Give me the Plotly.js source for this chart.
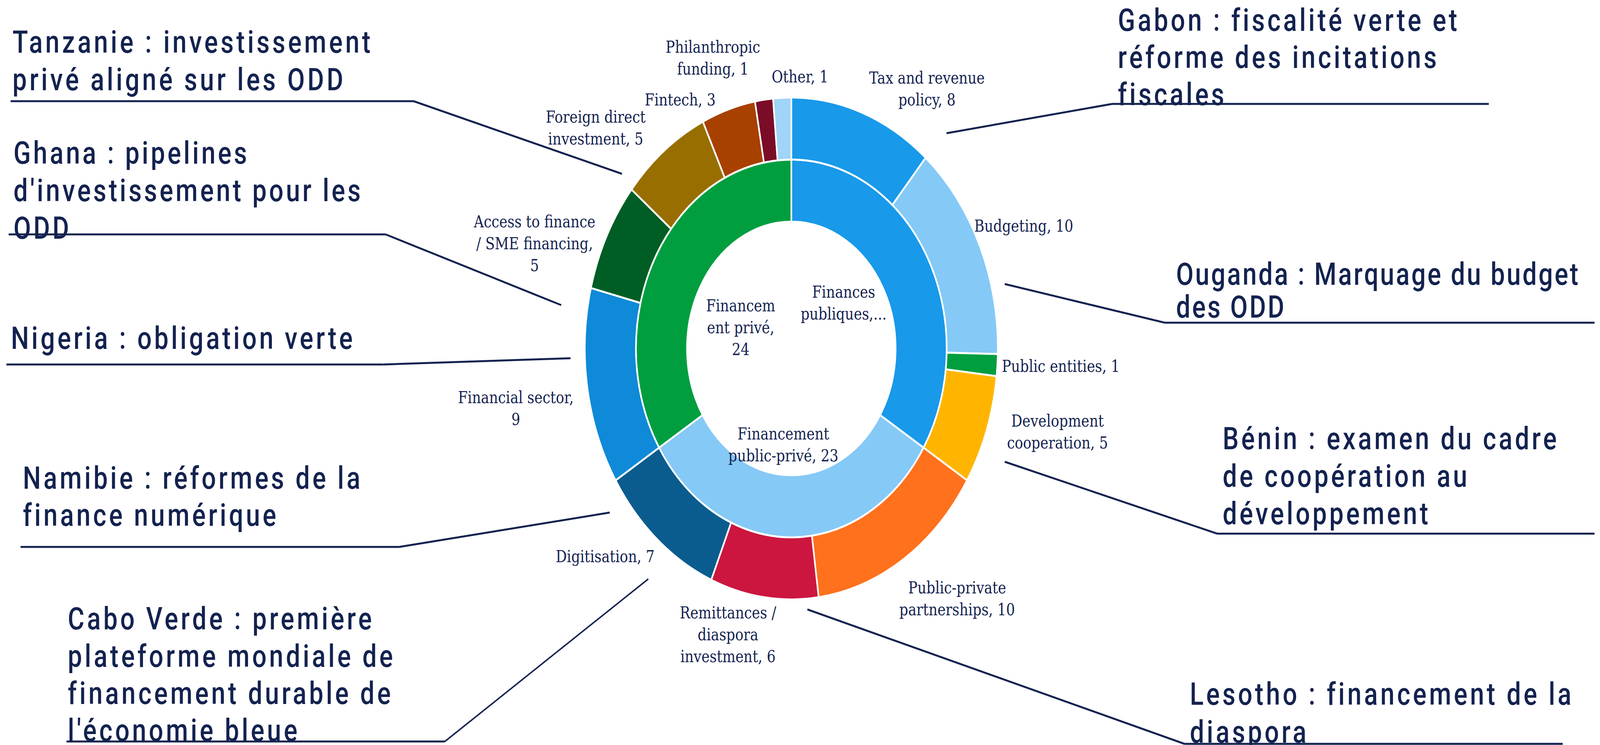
<!DOCTYPE html>
<html><head><meta charset="utf-8">
<script src="https://cdn.plot.ly/plotly-3.0.1.min.js"></script>
<style>
html,body{margin:0;padding:0;background:#fff;overflow:hidden;}
#chart{width:4978px;height:1907px;transform-origin:0 0;}
</style></head><body><div id="chart"></div>
<script>
// ---------- DATA ----------
const innerLabels = ["Finances publiques", "Financement public-privé", "Financement privé"];
const innerValues = [24, 23, 24];
const outerLabels = ["Tax and revenue policy", "Budgeting", "Public entities", "Development cooperation",
  "Public-private partnerships", "Remittances / diaspora investment", "Digitisation", "Financial sector",
  "Access to finance / SME financing", "Foreign direct investment", "Fintech", "Philanthropic funding", "Other"];
const outerValues = [8, 10, 1, 5, 10, 6, 7, 9, 5, 5, 3, 1, 1];
const countryNotes = [
  ["Tanzanie : investissement", "privé aligné sur les ODD"],
  ["Ghana : pipelines", "d'investissement pour les", "ODD"],
  ["Nigeria : obligation verte"],
  ["Namibie : réformes de la", "finance numérique"],
  ["Cabo Verde : première", "plateforme mondiale de", "financement durable de", "l'économie bleue"],
  ["Lesotho : financement de la", "diaspora"],
  ["Bénin : examen du cadre", "de coopération au", "développement"],
  ["Ouganda : Marquage du budget", "des ODD"],
  ["Gabon : fiscalité verte et", "réforme des incitations", "fiscales"]
];

// ---------- STYLE / LAYOUT ----------
const W = 4978, H = 1907;
const NAVY = "#13224f";
const innerColors = ["#1899ea", "#85c9f6", "#009e3f"];
const outerColors = ["#1899ea", "#85c9f6", "#009e3f", "#ffb500", "#ff711c", "#cc163f", "#0b5c8e",
  "#0e8ad8", "#005e25", "#986e00", "#a84000", "#7a0c27", "#a0d4f8"];
// label wrapping templates ('|' = line break, {v} = value)
const outerWrap = ["Tax and revenue|policy, {v}", "Budgeting, {v}", "Public entities, {v}", "Development|cooperation, {v}",
  "Public-private|partnerships, {v}", "Remittances /|diaspora|investment, {v}", "Digitisation, {v}", "Financial sector,|{v}",
  "Access to finance|/ SME financing,|{v}", "Foreign direct|investment, {v}", "Fintech, {v}", "Philanthropic|funding, {v}", "Other, {v}"];
const innerWrap = ["Finances|publiques,...", "Financement|public-privé, {v}", "Financem|ent privé,|{v}"];
// label centres in pixels
const outerPos = [[2884,227],[3185,578],[3301,937],[3290,1105],[2978,1532],[2265,1624],[1883,1424],
  [1605,1045],[1663,623],[1853,327],[2116,255],[2218,148],[2489,196]];
const innerPos = [[2625,775],[2437,1138],[2304,838]];
// country notes: left x, baselines, underline [x0,x1,y], leader end, first-line width
const notePos = [
  {x:38, b:[136,232], u:[33,1287,259], end:[1935,445], side:"L", w:1122},
  {x:41, b:[420,516,612], u:[27,1200,600], end:[1746,781], side:"L", w:734},
  {x:33, b:[894], u:[20,1193,933], end:[1775,917], side:"L", w:1071},
  {x:70, b:[1252,1347], u:[64,1242,1400], end:[1897,1312], side:"L", w:1058},
  {x:210, b:[1612,1708,1803,1898], u:[207,1384,1898], end:[2017,1482], side:"L", lw:4, w:954},
  {x:3701, b:[1805,1902], u:[3685,4862,1904], end:[2512,1560], side:"R", w:1193},
  {x:3803, b:[1151,1247,1343], u:[3787,4961,1366], end:[3126,1182], side:"R", w:1047},
  {x:3658, b:[730,814], u:[3624,4961,826], end:[3126,727], side:"R", w:1257},
  {x:3477, b:[80,175,270], u:[3460,4632,266], end:[2945,341], side:"R", w:1062}
];
const CX = 2462, CY = 892, R_OUT = 642.5, R_MID = 483.5, R_IN = 324.5;

const px = (x) => x / W;
const py = (y) => 1 - y / H;
const fill = (tpl, v) => tpl.replace("{v}", v).split("|").join("<br>");

const innerTrace = {
  type: "pie", labels: innerLabels, values: innerValues, sort: false, direction: "clockwise", rotation: 0,
  hole: R_IN / R_MID, textinfo: "none", hoverinfo: "label+value",
  marker: {colors: innerColors, line: {color: "#ffffff", width: 5}},
  domain: {x: [px(CX - R_MID), px(CX + R_MID)], y: [py(CY + R_MID), py(CY - R_MID)]}
};
const outerTrace = {
  type: "pie", labels: outerLabels, values: outerValues, sort: false, direction: "clockwise", rotation: 0,
  hole: R_MID / R_OUT, textinfo: "none", hoverinfo: "label+value",
  marker: {colors: outerColors, line: {color: "#ffffff", width: 5}},
  domain: {x: [px(CX - R_OUT), px(CX + R_OUT)], y: [py(CY + R_OUT), py(CY - R_OUT)]}
};

const annotations = [];
const serif = {family: "DejaVu Serif", size: 43, color: NAVY};
outerLabels.forEach((l, i) => {
  annotations.push({xref: "paper", yref: "paper", x: px(outerPos[i][0]), y: py(outerPos[i][1]),
    xanchor: "center", yanchor: "middle", align: "center", showarrow: false,
    text: fill(outerWrap[i], outerValues[i]), font: serif});
});
innerLabels.forEach((l, i) => {
  annotations.push({xref: "paper", yref: "paper", x: px(innerPos[i][0]), y: py(innerPos[i][1]),
    xanchor: "center", yanchor: "middle", align: "center", showarrow: false,
    text: fill(innerWrap[i], innerValues[i]), font: serif});
});
const FS = 79;
const shapes = [];
const noteIndex = []; // [noteIdx, lineIdx, annotationIdx]
countryNotes.forEach((lines, i) => {
  const p = notePos[i];
  lines.forEach((t, j) => {
    noteIndex.push([i, j, annotations.length]);
    annotations.push({xref: "paper", yref: "paper", x: px(p.x), y: py(p.b[j] - 0.35 * FS),
      xanchor: "left", yanchor: "middle", align: "left", showarrow: false, borderpad: 0,
      text: t, font: {family: "Roboto", size: FS, color: NAVY, weight: 500}});
  });
  const lw = p.lw || 5;
  shapes.push({type: "line", xref: "paper", yref: "paper", x0: px(p.u[0]), x1: px(p.u[1]), y0: py(p.u[2]), y1: py(p.u[2]),
    line: {color: NAVY, width: 5}});
  const sx = p.side === "L" ? p.u[1] : p.u[0];
  shapes.push({type: "line", xref: "paper", yref: "paper", x0: px(sx), y0: py(p.u[2]), x1: px(p.end[0]), y1: py(p.end[1]),
    line: {color: NAVY, width: lw}});
});

const layout = {
  width: W, height: H, margin: {l: 0, r: 0, t: 0, b: 0}, showlegend: false,
  paper_bgcolor: "#ffffff", plot_bgcolor: "#ffffff",
  annotations: annotations, shapes: shapes
};

// fit the W x H drawing into the actual window
const el = document.getElementById("chart");
const sX = (window.innerWidth || W) / W, sY = (window.innerHeight || H) / H;
el.style.transform = "scale(" + sX + "," + sY + ")";

Plotly.newPlot("chart", [innerTrace, outerTrace], layout, {staticPlot: true, displayModeBar: false}).then(() => {
  // tracking of the country notes: spacing chosen so the first line matches its width in the original
  const annEls = document.querySelectorAll(".annotation");
  const spacing = {};
  noteIndex.forEach(([i, j, a]) => {
    if (j !== 0) return;
    const t = annEls[a].querySelector("text.annotation-text");
    t.style.letterSpacing = "0px";
    const natural = t.getBBox().width;
    spacing[i] = Math.max(0, (notePos[i].w - natural) / countryNotes[i][0].length);
  });
  noteIndex.forEach(([i, j, a]) => {
    const t = annEls[a].querySelector("text.annotation-text");
    t.style.letterSpacing = spacing[i].toFixed(2) + "px";
  });
});
</script></body></html>
